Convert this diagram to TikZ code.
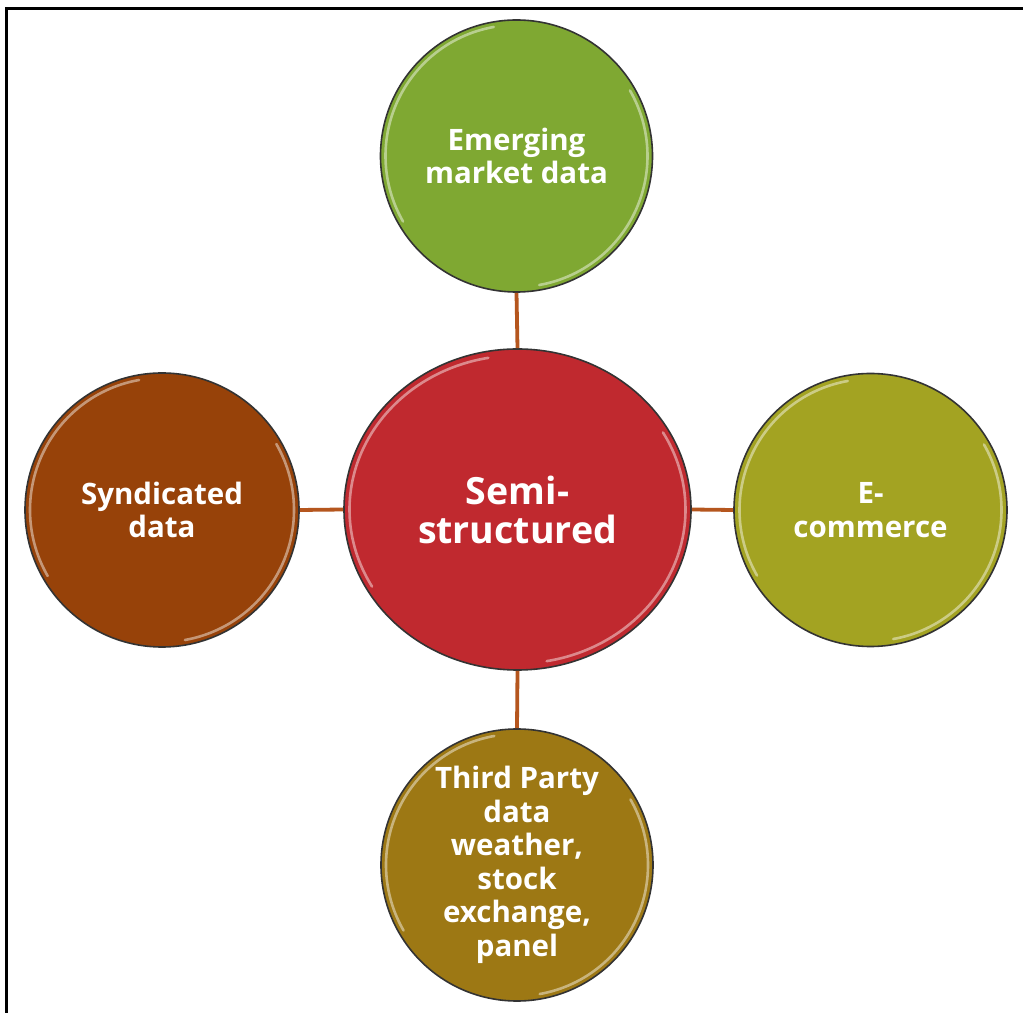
\documentclass[tikz,border=0pt]{standalone}
\usepackage{fontspec}
\setmainfont{Open Sans}
\usetikzlibrary{shapes.geometric,calc}
\definecolor{cgreen}{HTML}{7FA832}
\definecolor{cred}{HTML}{C0292F}
\definecolor{cbrown}{HTML}{974209}
\definecolor{colive}{HTML}{A3A322}
\definecolor{cgold}{HTML}{9D7814}
\definecolor{clink}{HTML}{B5561E}
\definecolor{cedge}{HTML}{333333}
\tikzset{
  bubble/.style={circle, draw=cedge, line width=1.6pt, inner sep=0pt, text=white,
    align=center, font=\fontsize{29.5}{33.5}\selectfont\bfseries},
  hub/.style={ellipse, draw=cedge, line width=1.6pt, inner sep=0pt, text=white,
    align=center, font=\fontsize{37.5}{39}\selectfont\bfseries},
  link/.style={draw=clink, line width=3.8pt},
  gloss/.style={draw=white, opacity=0.45, line width=2.6pt, line cap=round},
  frameline/.style={draw=black, line width=3pt}
}
\newcommand{\glossy}[3]{%
  \draw[gloss] ($(#1.center)+(100:#2 and #3)$) arc[start angle=100, end angle=210, x radius=#2, y radius=#3];
  \draw[gloss] ($(#1.center)+(-80:#2 and #3)$) arc[start angle=-80, end angle=30, x radius=#2, y radius=#3];
}
\begin{document}
\begin{tikzpicture}[x=1pt,y=1pt]
\useasboundingbox (0,0) rectangle (1023,1013);
\fill[white] (0,0) rectangle (1023,1013);
% frame (only top and left edges visible)
\coordinate (ftr) at (1023,1004.5);
\coordinate (ftl) at (6.5,1004.5);
\coordinate (fbl) at (6.5,0);
\draw[frameline] (ftr) -- (ftl) -- (fbl);
% nodes
\node[hub, fill=cred, minimum width=347pt, minimum height=321pt] (c) at (517.5,503.5) {Semi-\\structured};
\node[bubble, fill=cgreen, minimum size=272pt] (t) at (516.5,857) {Emerging\\market data};
\node[bubble, fill=cbrown, minimum size=274pt] (l) at (162,503) {Syndicated\\data};
\node[bubble, fill=colive, minimum size=273pt] (r) at (870.5,503) {E-\\commerce};
\node[bubble, fill=cgold, minimum size=272pt] (b) at (517,148) {Third Party\\data\\weather,\\stock\\exchange,\\panel};
% gloss highlights
\glossy{c}{168pt}{154pt}
\glossy{t}{131pt}{131pt}
\glossy{l}{132pt}{132pt}
\glossy{r}{131pt}{131pt}
\glossy{b}{131pt}{131pt}
% connectors
\draw[link] (c.north) -- (t.south);
\draw[link] (c.south) -- (b.north);
\draw[link] (c.west) -- (l.east);
\draw[link] (c.east) -- (r.west);
\end{tikzpicture}
\end{document}
